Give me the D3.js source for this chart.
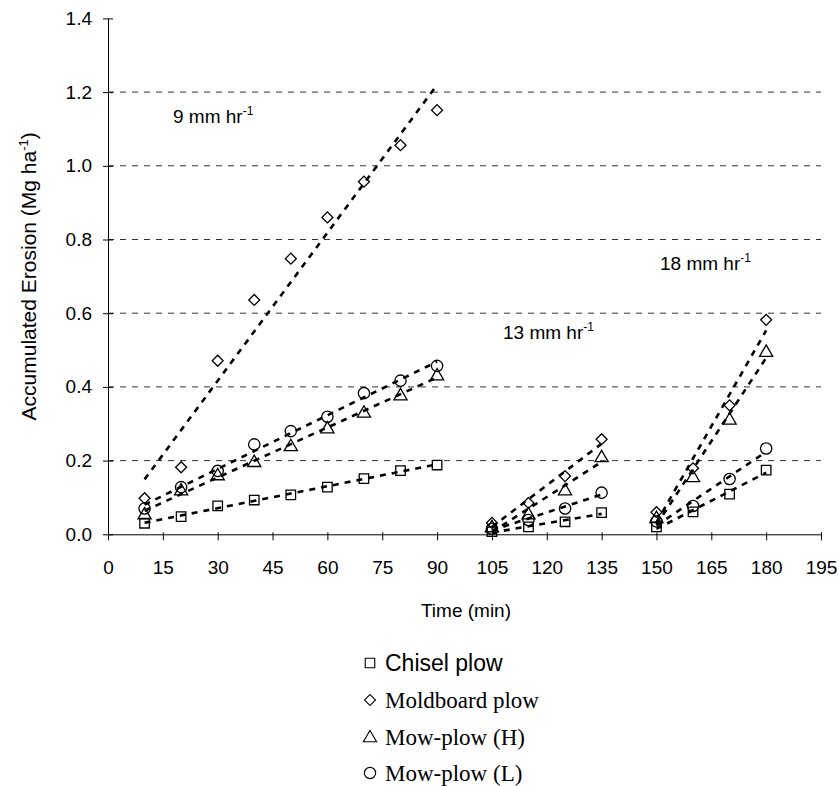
<!DOCTYPE html>
<html>
<head>
<meta charset="utf-8">
<script src="https://cdn.jsdelivr.net/npm/d3@7"></script>
<style>
  html, body { margin: 0; padding: 0; background: #fff; }
  svg { display: block; }
</style>
</head>
<body>
<svg id="chart" width="839" height="786"></svg>
<script>
// ---- data ----
const times9  = [10, 20, 30, 40, 50, 60, 70, 80, 90];
const times13 = [105, 115, 125, 135];
const times18 = [150, 160, 170, 180];

const chisel9  = [0.030, 0.048, 0.077, 0.093, 0.107, 0.128, 0.151, 0.173, 0.188];
const chisel13 = [0.007, 0.020, 0.034, 0.059];
const chisel18 = [0.020, 0.061, 0.109, 0.174];

const moldboard9  = [0.098, 0.182, 0.471, 0.636, 0.748, 0.860, 0.957, 1.056, 1.151];
const moldboard13 = [0.031, 0.085, 0.158, 0.258];
const moldboard18 = [0.060, 0.179, 0.350, 0.582];

const mowH9  = [0.055, 0.120, 0.161, 0.197, 0.240, 0.288, 0.331, 0.378, 0.432];
const mowH13 = [0.020, 0.055, 0.120, 0.210];
const mowH18 = [0.045, 0.156, 0.312, 0.496];

const mowL9  = [0.070, 0.128, 0.172, 0.244, 0.280, 0.319, 0.383, 0.417, 0.457];
const mowL13 = [0.015, 0.039, 0.070, 0.113];
const mowL18 = [0.035, 0.077, 0.150, 0.233];

const seriesNames = ["Chisel plow", "Moldboard plow", "Mow-plow (H)", "Mow-plow (L)"];
const xTicks = [0, 15, 30, 45, 60, 75, 90, 105, 120, 135, 150, 165, 180, 195];
const yTicks = [0, 0.2, 0.4, 0.6, 0.8, 1.0, 1.2, 1.4];
const rateLabels = ["9 mm hr", "13 mm hr", "18 mm hr"];

// ---- build ----
const segments = [times9, times13, times18];
const seriesData = [
  { name: seriesNames[0], shape: "square",  vals: [chisel9, chisel13, chisel18] },
  { name: seriesNames[1], shape: "diamond", vals: [moldboard9, moldboard13, moldboard18] },
  { name: seriesNames[2], shape: "triangle",vals: [mowH9, mowH13, mowH18] },
  { name: seriesNames[3], shape: "circle",  vals: [mowL9, mowL13, mowL18] }
];

const svg = d3.select("#chart");
const x = d3.scaleLinear().domain([0, 195]).range([108, 821]);
const y = d3.scaleLinear().domain([0, 1.4]).range([534.3, 18.4]);

const SANS = "'Liberation Sans', Arial, sans-serif";
const SERIF = "'Liberation Serif', 'Times New Roman', serif";

// gridlines
svg.append("g").selectAll("line")
  .data(yTicks.filter(v => v > 0 && v < 1.4))
  .join("line")
  .attr("x1", x(0)).attr("x2", x(195))
  .attr("y1", d => y(d)).attr("y2", d => y(d))
  .attr("stroke", "#333").attr("stroke-width", 1)
  .attr("stroke-dasharray", "6,6");

// axes
const yAxis = d3.axisLeft(y).tickValues(yTicks).tickFormat(d3.format(".1f")).tickSizeInner(5).tickSizeOuter(0).tickPadding(11);
const gy = svg.append("g").attr("transform", `translate(${x(0)},0)`).call(yAxis);
gy.selectAll(".tick line").attr("x2", 5).attr("x1", -5);
gy.select(".domain").attr("stroke", "#000");
gy.selectAll("text").attr("font-family", SANS).attr("font-size", 19).attr("fill", "#000");

const xAxis = d3.axisBottom(x).tickValues(xTicks).tickFormat(d3.format("d")).tickSizeInner(6).tickSizeOuter(0).tickPadding(20);
const gx = svg.append("g").attr("transform", `translate(0,${y(0)})`).call(xAxis);
gx.selectAll(".tick line").attr("y1", -2).attr("y2", 6);
gx.select(".domain").attr("stroke", "#000");
gx.selectAll("text").attr("font-family", SANS).attr("font-size", 19).attr("fill", "#000");

// axis titles
svg.append("text").attr("x", 466).attr("y", 617).attr("text-anchor", "middle")
  .attr("font-family", SANS).attr("font-size", 19).text("Time (min)");

const yl = svg.append("text")
  .attr("transform", `translate(36,${(y(0) + y(1.4)) / 2}) rotate(-90)`)
  .attr("text-anchor", "middle").attr("font-family", SANS).attr("font-size", 21);
yl.append("tspan").text("Accumulated Erosion (Mg ha");
yl.append("tspan").attr("dy", -8).attr("font-size", 13).text("-1");
yl.append("tspan").attr("dy", 8).text(")");

// markers
function symPath(shape) {
  if (shape === "square") return d3.symbol().type(d3.symbolSquare).size(90)();
  if (shape === "diamond") return d3.symbol().type(d3.symbolSquare).size(60)();
  if (shape === "triangle") return d3.symbol().type(d3.symbolTriangle).size(75)();
  return d3.symbol().type(d3.symbolCircle).size(100)();
}
function symTransform(shape, cx, cy) {
  let t = `translate(${cx},${cy})`;
  if (shape === "diamond") t += " rotate(45)";
  if (shape === "triangle") t = `translate(${cx},${cy + 1})`;
  return t;
}

const mg = svg.append("g");
seriesData.forEach(s => {
  segments.forEach((ts, si) => {
    ts.forEach((t, i) => {
      mg.append("path")
        .attr("d", symPath(s.shape))
        .attr("transform", symTransform(s.shape, x(t), y(s.vals[si][i])))
        .attr("fill", "none").attr("stroke", "#000").attr("stroke-width", 1.3);
    });
  });
});

// linear trend lines
function fit(ts, vs) {
  const mt = d3.mean(ts), mv = d3.mean(vs);
  let num = 0, den = 0;
  ts.forEach((t, i) => { num += (t - mt) * (vs[i] - mv); den += (t - mt) * (t - mt); });
  const b = num / den, a = mv - b * mt;
  return t => a + b * t;
}
const tg = svg.append("g");
seriesData.forEach(s => {
  segments.forEach((ts, si) => {
    const f = fit(ts, s.vals[si]);
    const t0 = ts[0], t1 = ts[ts.length - 1];
    tg.append("line")
      .attr("x1", x(t0)).attr("y1", y(f(t0)))
      .attr("x2", x(t1)).attr("y2", y(f(t1)))
      .attr("stroke", "#000").attr("stroke-width", 2.6)
      .attr("stroke-dasharray", "6,6");
  });
});

// rate annotations
const annPos = [[173, 123], [503, 339], [660, 270]];
rateLabels.forEach((lab, i) => {
  const t = svg.append("text").attr("x", annPos[i][0]).attr("y", annPos[i][1])
    .attr("font-family", SANS).attr("font-size", 19);
  t.append("tspan").text(lab);
  t.append("tspan").attr("dy", -8).attr("font-size", 12).text("-1");
});

// legend
const legY = [663, 700, 737, 773];
seriesData.forEach((s, i) => {
  svg.append("path").attr("d", symPath(s.shape))
    .attr("transform", symTransform(s.shape, 370, legY[i]))
    .attr("fill", "none").attr("stroke", "#000").attr("stroke-width", 1.1);
  svg.append("text").attr("x", 385).attr("y", legY[i]).attr("dy", "0.35em")
    .attr("font-family", i === 0 ? SANS : SERIF).attr("font-size", 23)
    .text(s.name);
});
</script>
</body>
</html>
